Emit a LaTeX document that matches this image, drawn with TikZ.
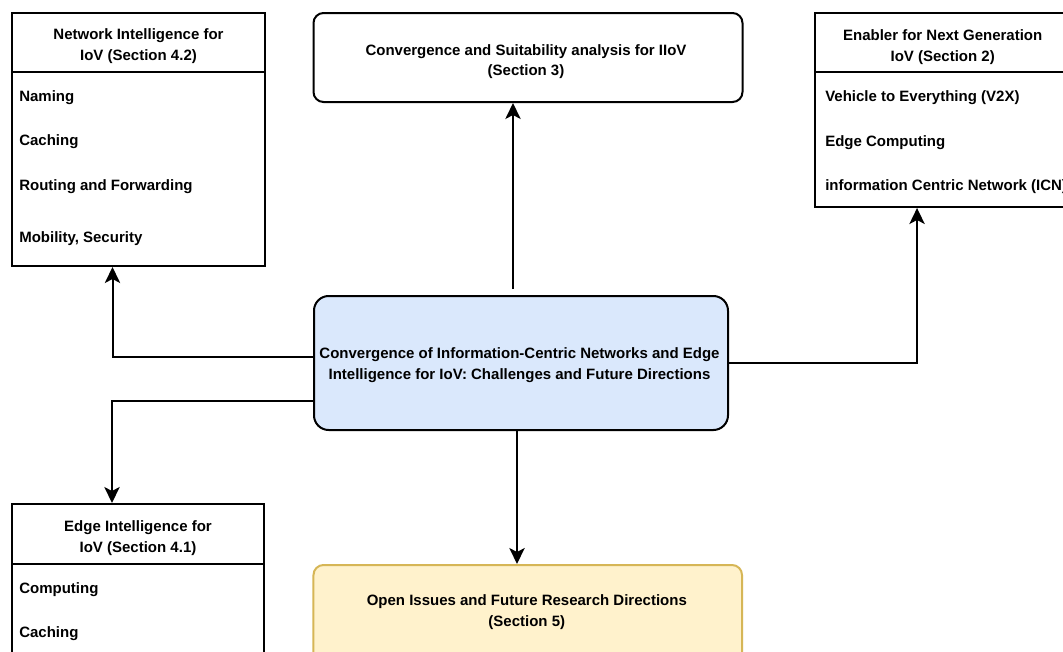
\documentclass[tikz,border=0pt]{standalone}
\usepackage{fontspec}
\setmainfont{Liberation Sans}
\usetikzlibrary{arrows.meta}
\definecolor{cblue}{HTML}{DAE8FC}
\definecolor{cyellow}{HTML}{FFF2CC}
\definecolor{cyellowd}{HTML}{D6B656}
\tikzset{
  x=0.75pt, y=-0.75pt,
  every node/.style={font=\fontsize{11.25}{15.75}\selectfont\bfseries},
  box/.style={draw=black, line width=1.5pt, rectangle, inner sep=0pt},
  rbox/.style={box, rounded corners=7.5pt},
  lbl/.style={inner sep=0pt, anchor=base},
  item/.style={inner sep=0pt, anchor=base west},
  arr/.style={line width=1.5pt, -{Stealth[length=12pt,width=11.5pt,inset=3pt]}},
}
\begin{document}
\begin{tikzpicture}
\clip (0,0) rectangle (1063,651);
\fill[white] (0,0) rectangle (1063,651);

% boxes
\node[box, minimum width=189.75pt, minimum height=189.75pt] (ni) at (138.5,139.5) {};
\node[rbox, minimum width=321.75pt, minimum height=66.75pt] (top) at (528,57.5) {};
\node[box, minimum width=191.25pt, minimum height=145.5pt] (en) at (942.5,110) {};
\node[rbox, rounded corners=11pt, fill=cblue, minimum width=310.5pt, minimum height=100.5pt] (c) at (521,363) {};
\node[rbox, draw=cyellowd, fill=cyellow, minimum width=321.4pt, minimum height=75pt] (bot) at (527.75,615) {};
\node[box, minimum width=189pt, minimum height=147pt] (ei) at (138,602) {};

% dividers
\coordinate (nid) at (0,72);
\coordinate (end) at (0,71.5);
\coordinate (eid) at (0,563.5);
\draw[line width=1.5pt] (ni.west |- nid) -- (ni.east |- nid);
\draw[line width=1.5pt] (en.west |- end) -- (en.east |- end);
\draw[line width=1.5pt] (ei.west |- eid) -- (ei.east |- eid);

% Network Intelligence
\node[lbl] (nit1) at (138.5,39.3) {Network Intelligence for};
\node[lbl] (nit2) at (138.5,60.3) {IoV (Section 4.2)};
\node[item] (ni1) at (19,101.7) {Naming};
\node[item] (ni2) at (19,145) {Caching};
\node[item] (ni3) at (19,190) {Routing and Forwarding};
\node[item] (ni4) at (19,242) {Mobility, Security};

% top
\node[lbl] (tt1) at (526,55) {Convergence and Suitability analysis for IIoV};
\node[lbl] (tt2) at (526,75) {(Section 3)};

% Enabler
\node[lbl] (ent1) at (942.7,40) {Enabler for Next Generation};
\node[lbl] (ent2) at (942.7,61) {IoV (Section 2)};
\node[item] (en1) at (825,101.7) {Vehicle to Everything (V2X)};
\node[item] (en2) at (825,146.7) {Edge Computing};
\node[item] (en3) at (825,190) {information Centric Network (ICN)};

% center
\node[lbl] (ct1) at (519.5,358.3) {Convergence of Information-Centric Networks and Edge};
\node[lbl] (ct2) at (519.5,379.3) {Intelligence for IoV: Challenges and Future Directions};

% bottom
\node[lbl] (bt1) at (526.8,605) {Open Issues and Future Research Directions};
\node[lbl] (bt2) at (526.8,626) {(Section 5)};

% Edge Intelligence
\node[lbl] (eit1) at (138,531.7) {Edge Intelligence for};
\node[lbl] (eit2) at (138,552.7) {IoV (Section 4.1)};
\node[item] (ei1) at (19,593.3) {Computing};
\node[item] (ei2) at (19,637) {Caching};

% connectors
\draw[arr, shorten <=4.5pt] ([xshift=-6pt]c.north) -- ([xshift=-6pt]c.north |- top.south);
\draw[arr] ([xshift=-3pt]c.south) -- ([xshift=-3pt]c.south |- bot.north);
\draw[arr] ([yshift=4.5pt]c.west) -| ([xshift=-19.5pt]ni.south);
\draw[arr] ([yshift=-28.5pt]c.west) -| ([xshift=-19.5pt]ei.north);
\draw[arr] (c.east) -| ([xshift=-19.1pt]en.south);
\end{tikzpicture}
\end{document}
